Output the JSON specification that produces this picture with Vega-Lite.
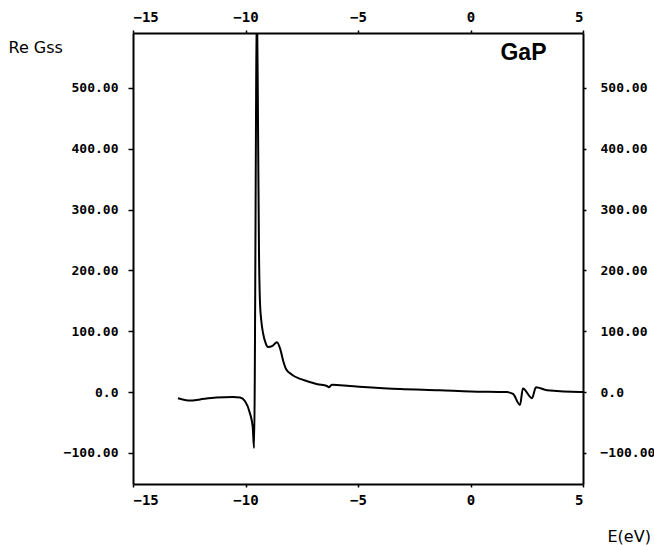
{
  "$schema": "https://vega.github.io/schema/vega-lite/v6.json",
  "width": 450,
  "height": 451,
  "autosize": {"type": "none"},
  "padding": {"left": 133, "top": 33, "right": 71, "bottom": 61},
  "background": "white",
  "config": {
    "view": {"stroke": null},
    "axis": {
      "domainColor": "black", "domainWidth": 2, "tickColor": "black", "tickWidth": 1.5,
      "labelColor": "black", "labelFont": "DejaVu Sans Mono", "labelFontWeight": "bold",
      "grid": false, "titleColor": "black"
    }
  },
  "data": {"values": [
    {"E": -13.0, "G": -10}, {"E": -12.47, "G": -14}, {"E": -12.02, "G": -12}, {"E": -11.3, "G": -9},
    {"E": -10.56, "G": -8}, {"E": -10.24, "G": -9}, {"E": -10.02, "G": -15}, {"E": -9.8, "G": -35},
    {"E": -9.68, "G": -57}, {"E": -9.62, "G": -92}, {"E": -9.49, "G": 640}, {"E": -9.44, "G": 420},
    {"E": -9.4, "G": 230}, {"E": -9.36, "G": 151}, {"E": -9.3, "G": 118}, {"E": -9.22, "G": 97}, {"E": -9.1, "G": 80},
    {"E": -9.0, "G": 74}, {"E": -8.8, "G": 76}, {"E": -8.6, "G": 82}, {"E": -8.45, "G": 70}, {"E": -8.33, "G": 52},
    {"E": -8.2, "G": 38}, {"E": -7.95, "G": 29}, {"E": -7.6, "G": 22}, {"E": -7.27, "G": 18}, {"E": -6.8, "G": 13}, {"E": -6.38, "G": 10},
    {"E": -6.3, "G": 8}, {"E": -6.16, "G": 12}, {"E": -5.36, "G": 10}, {"E": -3.13, "G": 5},
    {"E": -1.36, "G": 3}, {"E": 0.0, "G": 1}, {"E": 1.62, "G": 0}, {"E": 1.89, "G": -3},
    {"E": 2.2, "G": -21}, {"E": 2.33, "G": 6}, {"E": 2.73, "G": -10}, {"E": 2.91, "G": 8},
    {"E": 3.4, "G": 3}, {"E": 4.87, "G": 0}, {"E": 5.0, "G": 0}
  ]},
  "layer": [
    {
      "mark": {"type": "line", "color": "black", "strokeWidth": 2, "clip": true, "interpolate": "monotone"},
      "encoding": {
        "x": {"field": "E", "type": "quantitative",
          "scale": {"domain": [-15, 5], "nice": false, "zero": false},
          "axis": {"orient": "bottom", "values": [-15, -10, -5, 0, 5], "format": "d",
            "labelFontSize": 14, "labelPadding": 6, "tickSize": 3,
            "title": "E(eV)", "titleFont": "DejaVu Sans", "titleFontWeight": "normal", "titleFontSize": 16,
            "titleX": 474, "titleY": 52, "titleAlign": "left", "titleBaseline": "middle", "titleAnchor": null}},
        "y": {"field": "G", "type": "quantitative",
          "scale": {"domain": [-151, 590], "nice": false, "zero": false},
          "axis": {"orient": "left", "values": [-100, 0, 100, 200, 300, 400, 500],
            "labelExpr": "datum.value == 0 ? '0.0' : format(datum.value, '.2f')",
            "labelFontSize": 13, "labelPadding": 10, "tickSize": 5,
            "title": "Re Gss", "titleFont": "DejaVu Sans", "titleFontWeight": "normal", "titleFontSize": 16,
            "titleAngle": 0, "titleX": -125, "titleY": 14, "titleAlign": "left", "titleBaseline": "middle", "titleAnchor": null}}
      }
    },
    {
      "mark": {"type": "line", "opacity": 0},
      "encoding": {
        "x": {"field": "E", "type": "quantitative",
          "axis": {"orient": "top", "values": [-15, -10, -5, 0, 5], "format": "d",
            "labelFontSize": 14, "labelPadding": 6, "tickSize": 3,
            "title": "GaP", "titleFont": "Liberation Sans", "titleFontWeight": "bold", "titleFontSize": 23,
            "titleX": 390, "titleY": 19, "titleAlign": "center", "titleBaseline": "middle", "titleAnchor": null}},
        "y": {"field": "G", "type": "quantitative",
          "axis": {"orient": "right", "values": [-100, 0, 100, 200, 300, 400, 500],
            "labelExpr": "datum.value == 0 ? '0.0' : format(datum.value, '.2f')",
            "labelFontSize": 13, "labelPadding": 14, "tickSize": 3, "title": null}}
      }
    }
  ],
  "resolve": {"axis": {"x": "independent", "y": "independent"}}
}
